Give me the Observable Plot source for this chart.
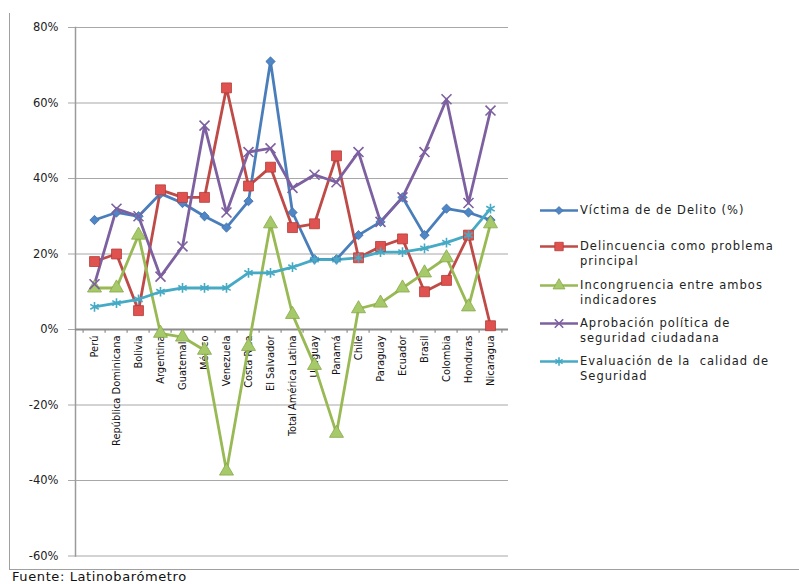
<!DOCTYPE html>
<html>
<head>
<meta charset="utf-8">
<script src="https://cdn.jsdelivr.net/npm/d3@7"></script>
<script src="https://cdn.jsdelivr.net/npm/@observablehq/plot@0.6"></script>
<style>
  body { margin: 0; background: #fff; }
  #wrap { position: relative; width: 799px; height: 584px; overflow: hidden; background: #fff; font-family: "DejaVu Sans", sans-serif; }
  #box { position: absolute; left: 9px; top: 13px; width: 800px; height: 556px; border-left: 1.5px solid #a0a0a0; border-bottom: 1.5px solid #a0a0a0; }
  #chart { position: absolute; left: 0; top: 0; }
  #legend { position: absolute; left: 540px; top: 0; }
  .entry { position: absolute; left: 0; width: 260px; }
  .entry svg { position: absolute; left: 0; top: 0; }
  .entry .lab { position: absolute; left: 40px; top: 0; font-size: 11.5px; letter-spacing: 1px; line-height: 15px; color: #222; white-space: pre; }
  #caption { position: absolute; left: 12px; top: 570px; font-size: 13px; line-height: 13px; letter-spacing: 0.6px; color: #111; white-space: nowrap; }
</style>
</head>
<body>
<div id="wrap">
  <div id="box"></div>
  <div id="chart"></div>
  <div id="legend"></div>
  <div id="caption">Fuente: Latinobarómetro</div>
</div>
<script>
const countries = ["Perú","República Dominicana","Bolivia","Argentina","Guatemala","México","Venezuela","Costa Rica","El Salvador","Total América Latina","Uruguay","Panamá","Chile","Paraguay","Ecuador","Brasil","Colombia","Honduras","Nicaragua"];

const victima      = [29, 31, 30, 36, 33.5, 30, 27, 34, 71, 31, 18.6, 18.6, 25, 28.5, 35, 25, 32, 31, 29];
const delincuencia = [18, 20, 5, 37, 35, 35, 64, 38, 43, 27, 28, 46, 19, 22, 24, 10, 13, 25, 1];
const incongruencia= [11, 11, 25, -1, -2, -5.5, -37.5, -4.5, 28, 4, -9.5, -27.5, 5.5, 7, 11, 15, 19, 6, 28];
const aprobacion   = [12, 32, 30, 14, 22, 54, 31, 47, 48, 37.5, 41, 39, 47, 28.5, 35, 47, 61, 33.5, 58];
const evaluacion   = [6, 7, 8, 10, 11, 11, 11, 15, 15, 16.5, 18.5, 18.5, 19, 20.5, 20.5, 21.5, 23, 25, 32];

const yTicks = [-60, -40, -20, 0, 20, 40, 60, 80];

const seriesNames = ["Víctima de de Delito (%)", "Delincuencia como problema\nprincipal", "Incongruencia entre ambos\nindicadores", "Aprobación política de\nseguridad ciudadana", "Evaluación de la  calidad de\nSeguridad"];
const seriesValues = [victima, delincuencia, incongruencia, aprobacion, evaluacion];
const seriesColors = ["#4a7ebb", "#be4b48", "#98b954", "#7d60a0", "#46aac5"];
const seriesSymbols = ["diamond2", "square", "triangle", "times", "asterisk"];
const symbolFilled = [true, true, true, false, false];
const symbolR = [4.2, 5.6, 5.2, 4.6, 4.6];
const markerFill = ["#4f86c6", "#e0524f", "#a6c96a", "none", "none"];
const markerStroke = ["#3f6fa8", "#b23c39", "#88a848", "#7d60a0", "#46aac5"];

const data = seriesValues.flatMap((vals, s) => countries.map((c, i) => ({ country: c, value: vals[i], s })));

const W = 799, H = 570, mL = 75, mR = 291, mT = 27, mB = 14.5;
const step = (W - mL - mR) / countries.length;

const marks = [
  Plot.ruleY(yTicks, { stroke: "#a8a8a8", strokeWidth: 1.2, insetLeft: -7 }),
  Plot.axisY({ ticks: yTicks, tickSize: 0, tickPadding: 17, tickFormat: d => d + "%", label: null, fontSize: 11.5, fill: "#222", fontFamily: "DejaVu Sans", style: { letterSpacing: "0.7px" } }),
  Plot.frame({ anchor: "left", stroke: "#9a9a9a", strokeWidth: 1.5 }),
  Plot.ruleY([0], { stroke: "#8c8c8c", strokeWidth: 2.2 }),
  Plot.ruleX(countries, { x: d => d, y1: 0, y2: -1, dx: -step / 2, stroke: "#8c8c8c", strokeWidth: 1.2 }),
  Plot.ruleX([countries[countries.length - 1]], { x: d => d, y1: 0, y2: -1, dx: step / 2, stroke: "#8c8c8c", strokeWidth: 1.2 }),
  Plot.text(countries, { x: d => d, y: 0, dy: 6, rotate: -90, textAnchor: "end", lineAnchor: "middle", fontSize: 11, fill: "#111", fontFamily: "Liberation Sans Narrow, DejaVu Sans Condensed, sans-serif" })
];

seriesValues.forEach((vals, s) => {
  const d = data.filter(r => r.s === s);
  marks.push(Plot.line(d, { x: "country", y: "value", stroke: seriesColors[s], strokeWidth: 2.8, strokeLinejoin: "round" }));
});
seriesValues.forEach((vals, s) => {
  const d = data.filter(r => r.s === s);
  marks.push(Plot.dot(d, {
    x: "country", y: "value", symbol: seriesSymbols[s], r: symbolR[s],
    fill: markerFill[s], stroke: markerStroke[s], strokeWidth: symbolFilled[s] ? 0.8 : 1.6
  }));
});

const chart = Plot.plot({
  width: W, height: H,
  marginLeft: mL, marginRight: mR, marginTop: mT, marginBottom: mB,
  style: { background: "transparent", overflow: "visible" },
  x: { type: "band", domain: countries, padding: 0, axis: null },
  y: { domain: [-60, 80], axis: null, label: null },
  marks
});
document.getElementById("chart").appendChild(chart);

// Legend
const legendTops = [203, 239, 278, 316, 354];
const legend = document.getElementById("legend");
seriesNames.forEach((name, s) => {
  const e = document.createElement("div");
  e.className = "entry";
  e.style.top = legendTops[s] + "px";
  const svg = d3.create("svg").attr("width", 40).attr("height", 16);
  svg.append("line").attr("x1", 0).attr("x2", 38).attr("y1", 7.5).attr("y2", 7.5)
    .attr("stroke", seriesColors[s]).attr("stroke-width", 2.7);
  const sym = { diamond2: d3.symbolDiamond2, square: d3.symbolSquare, triangle: d3.symbolTriangle, times: d3.symbolTimes, asterisk: d3.symbolAsterisk }[seriesSymbols[s]];
  svg.append("path").attr("transform", "translate(19,7.5)")
    .attr("d", d3.symbol(sym, Math.PI * (symbolR[s] * 0.85) ** 2)())
    .attr("fill", markerFill[s]).attr("stroke", markerStroke[s]).attr("stroke-width", symbolFilled[s] ? 0.8 : 1.6);
  e.appendChild(svg.node());
  const lab = document.createElement("div");
  lab.className = "lab";
  lab.textContent = name;
  e.appendChild(lab);
  legend.appendChild(e);
});
</script>
</body>
</html>
